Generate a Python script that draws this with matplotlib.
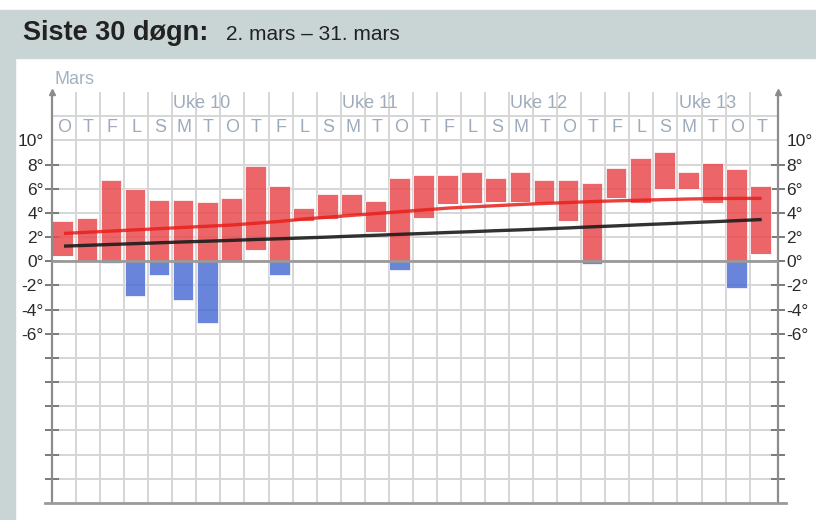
import matplotlib
import numpy as np

matplotlib.use('Agg')
import matplotlib.pyplot as plt
from matplotlib.patches import Rectangle

W, H = 816, 520

# Days 2. mars - 31. mars
day_letters = ['O', 'T', 'F', 'L', 'S', 'M', 'T', 'O', 'T', 'F',
               'L', 'S', 'M', 'T', 'O', 'T', 'F', 'L', 'S', 'M',
               'T', 'O', 'T', 'F', 'L', 'S', 'M', 'T', 'O', 'T']
week_labels = ['Uke 10', 'Uke 11', 'Uke 12', 'Uke 13']
week_start_day = [5, 12, 19, 26]

t_max = [3.3, 3.6, 6.7, 6.0, 5.1, 5.1, 4.9, 5.2, 7.9, 6.2,
         4.4, 5.6, 5.6, 5.0, 6.9, 7.1, 7.1, 7.4, 6.9, 7.4,
         6.7, 6.7, 6.5, 7.7, 8.5, 9.0, 7.4, 8.1, 7.6, 6.2]
t_min = [0.4, 0.0, -0.15, -2.9, -1.1, -3.2, -5.1, 0.0, 0.9, -1.1,
         3.3, 3.5, 3.8, 2.4, -0.7, 3.6, 4.7, 4.8, 4.9, 4.9,
         4.8, 3.3, -0.2, 5.2, 4.8, 6.0, 6.0, 4.8, -2.2, 0.6]

# normal max (red) and normal min (black)
normal_max = [2.3, 2.4, 2.5, 2.6, 2.7, 2.8, 2.9, 3.0, 3.15, 3.3,
              3.5, 3.65, 3.8, 3.95, 4.1, 4.25, 4.4, 4.5, 4.6, 4.7,
              4.78, 4.86, 4.94, 5.0, 5.05, 5.1, 5.15, 5.18, 5.2, 5.2]
normal_min = [1.25, 1.32, 1.39, 1.46, 1.53, 1.6, 1.66, 1.73, 1.8, 1.86,
              1.93, 2.0, 2.08, 2.15, 2.23, 2.3, 2.38, 2.45, 2.53, 2.6,
              2.68, 2.76, 2.85, 2.93, 3.02, 3.1, 3.19, 3.27, 3.36, 3.45]

plt.rcParams['font.family'] = ['Liberation Sans', 'DejaVu Sans']

fig = plt.figure(figsize=(W / 100, H / 100), dpi=100)
fig.patch.set_facecolor('white')

# header band and left frame strip
band = '#c9d5d4'
fig.patches.append(Rectangle((0, 1 - 58 / H), 1, 48 / H, transform=fig.transFigure,
                             color=band, zorder=-2))
fig.patches.append(Rectangle((0, 0), 15 / W, 1 - 58 / H, transform=fig.transFigure,
                             color=band, zorder=-2))
fig.text(23 / W, 1 - 40 / H, 'Siste 30 døgn:', fontsize=19.5, fontweight='bold',
         color='#222', va='baseline')
fig.text(226 / W, 1 - 40 / H, '2. mars – 31. mars', fontsize=15,
         color='#222', va='baseline')

x_right = 30.18
ax = fig.add_axes([52 / W, 17 / H, 726 / W, 411 / H])
ax.set_xlim(0, x_right)
ax.set_ylim(-20, 14)

# grid
grid_c = '#d6d6d6'
ax.vlines(np.arange(1, 30), -20, 14, color=grid_c, lw=1.4, zorder=0)
ax.hlines(np.arange(-18, 14, 2), 0, x_right, color=grid_c, lw=1.4, zorder=0)

# bars: red above zero, blue below
x = np.arange(len(t_max))
lo = np.array(t_min)
hi = np.array(t_max)
red_bottom = np.maximum(lo, 0)
red_height = np.where(hi > 0, hi - red_bottom, 0)
blue_top = np.minimum(hi, 0)
blue_height = np.where(lo < 0, blue_top - lo, 0)
ax.bar(x + 0.02, red_height, bottom=red_bottom, width=0.86, align='edge',
       color='#e94a4f', alpha=0.85, edgecolor='white', linewidth=0.6, zorder=2)
ax.bar(x + 0.02, blue_height, bottom=lo, width=0.86, align='edge',
       color='#4466d2', alpha=0.8, edgecolor='white', linewidth=0.6, zorder=2)

ax.axhline(0, color='#9a9a9a', lw=2, zorder=3)
ax.axhline(-20, xmin=-0.01, xmax=1.011, color='#9a9a9a', lw=2, zorder=3, clip_on=False)

ax.plot(x + 0.5, normal_max, color='#e8201c', lw=2.4, alpha=0.85, zorder=4,
        solid_capstyle='butt')
ax.plot(x + 0.5, normal_min, color='#1c1c1c', lw=2.4, alpha=0.9, zorder=4,
        solid_capstyle='butt')

# labels inside the top rows
label_c = '#9eabba'
for i, d in enumerate(day_letters):
    ax.text(i + 0.5, 11.05, d, ha='center', va='center', fontsize=13, color=label_c)
for start, label in zip(week_start_day, week_labels):
    ax.text(start + 0.05, 13.05, label, ha='left', va='center', fontsize=13, color=label_c)
ax.text(0.12, 15.05, 'Mars', ha='left', va='center', fontsize=13, color='#a3b2c2',
        clip_on=False)

# axes
for side in ['top', 'bottom']:
    ax.spines[side].set_visible(False)
for side in ['left', 'right']:
    ax.spines[side].set_color('#8c8c8c')
    ax.spines[side].set_linewidth(1.6)
ax.plot([0, x_right], [14, 14], ls='none', marker='^', ms=5, color='#8c8c8c',
        clip_on=False, zorder=5)

yt = np.arange(-18, 11, 2)
ax.set_xticks([])
ax.set_yticks(yt)
ax.set_yticklabels([f'{v}°' if v >= -6 else '' for v in yt])
ax.tick_params(axis='y', direction='inout', length=10, width=1.4, color='#7a7a7a',
               left=True, right=True, labelleft=True, labelright=True,
               labelsize=12.5, labelcolor='#2a2a2a', pad=1)
for tick in ax.yaxis.get_major_ticks():
    if tick.get_loc() == 10:
        tick.tick1line.set_visible(False)
        tick.tick2line.set_visible(False)

fig.savefig('out.png', dpi=100)
